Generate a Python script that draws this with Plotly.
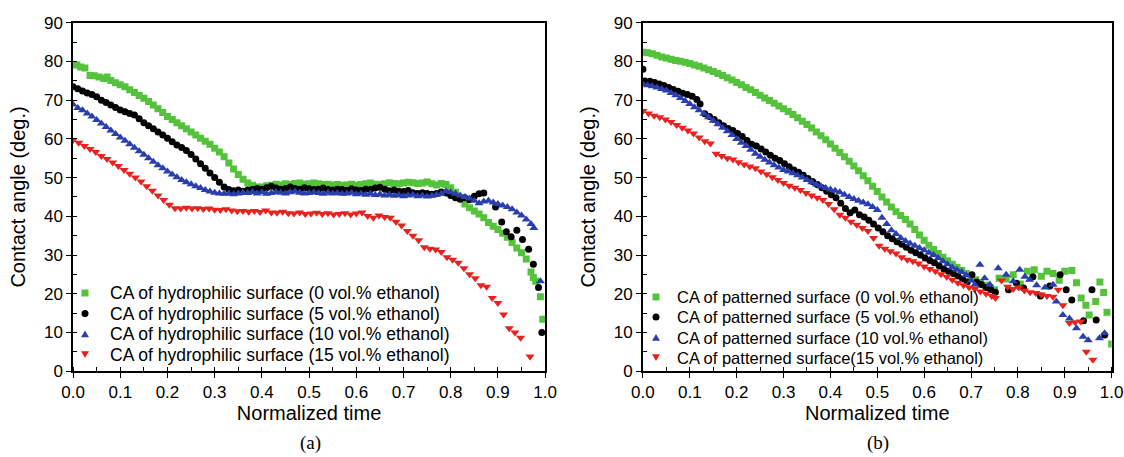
import plotly.graph_objects as go

# ---- (a) hydrophilic surface ----
a_t0 = [0.000, 0.008, 0.016, 0.025, 0.036, 0.045, 0.055, 0.065, 0.072, 0.080, 0.090, 0.100, 0.110, 0.120,
        0.130, 0.140, 0.150, 0.160, 0.170, 0.180, 0.190, 0.200, 0.210, 0.220, 0.230, 0.240, 0.250, 0.260,
        0.270, 0.280, 0.290, 0.300, 0.310, 0.320, 0.330, 0.340, 0.350, 0.360, 0.370, 0.380, 0.390, 0.400,
        0.410, 0.420, 0.430, 0.440, 0.450, 0.460, 0.470, 0.480, 0.490, 0.500, 0.510, 0.520, 0.530, 0.540,
        0.550, 0.560, 0.570, 0.580, 0.590, 0.600, 0.610, 0.620, 0.630, 0.640, 0.650, 0.660, 0.670, 0.680,
        0.690, 0.700, 0.710, 0.720, 0.730, 0.740, 0.750, 0.760, 0.770, 0.780, 0.790, 0.800, 0.810, 0.820,
        0.830, 0.840, 0.850, 0.860, 0.870, 0.880, 0.890, 0.900, 0.910, 0.920, 0.930, 0.940, 0.950, 0.960,
        0.970, 0.975, 0.980, 0.990, 0.995]
a_v0 = [79.2, 79.1, 78.6, 78.3, 76.4, 76.3, 76.0, 75.6, 76.0, 75.1, 74.5, 74.0, 73.5, 72.7,
        72.0, 71.2, 70.5, 69.7, 68.8, 67.8, 66.8, 65.8, 65.0, 64.2, 63.4, 62.6, 61.8, 61.0,
        60.2, 59.4, 58.6, 57.6, 56.6, 55.4, 53.8, 52.2, 50.8, 49.6, 48.6, 48.0, 47.6, 47.6,
        47.9, 48.0, 48.3, 48.1, 48.4, 48.2, 48.5, 48.6, 48.3, 48.4, 48.6, 48.4, 48.2, 48.3,
        48.1, 48.2, 48.0, 48.1, 48.3, 48.0, 48.2, 48.4, 48.6, 48.3, 48.2, 48.4, 48.7, 48.5,
        48.4, 48.6, 48.8, 48.7, 48.5, 48.6, 48.9, 48.4, 48.1, 48.5, 48.2, 47.4, 46.2, 44.8,
        43.2, 42.2, 41.4, 40.6, 39.6, 38.4, 37.4, 36.6, 35.6, 34.6, 33.2, 31.8, 30.6, 29.0,
        25.6, 24.2, 23.2, 19.2, 13.4]

a_t5 = [0.000, 0.010, 0.020, 0.030, 0.040, 0.050, 0.060, 0.070, 0.080, 0.090, 0.100, 0.110, 0.120, 0.130,
        0.140, 0.150, 0.160, 0.170, 0.180, 0.190, 0.200, 0.210, 0.220, 0.230, 0.240, 0.250, 0.260, 0.270,
        0.280, 0.290, 0.300, 0.310, 0.320, 0.330, 0.340, 0.350, 0.360, 0.370, 0.380, 0.390, 0.400, 0.410,
        0.420, 0.430, 0.440, 0.450, 0.460, 0.470, 0.480, 0.490, 0.500, 0.510, 0.520, 0.530, 0.540, 0.550,
        0.560, 0.570, 0.580, 0.590, 0.600, 0.610, 0.620, 0.630, 0.640, 0.650, 0.660, 0.670, 0.680, 0.690,
        0.700, 0.710, 0.720, 0.730, 0.740, 0.750, 0.760, 0.770, 0.780, 0.790, 0.800, 0.810, 0.820, 0.830,
        0.840, 0.850, 0.860, 0.870, 0.895, 0.908, 0.918, 0.928, 0.940, 0.952, 0.965, 0.975, 0.986, 0.993]
a_v5 = [73.5, 73.0, 72.4, 71.9, 71.5, 70.9, 70.0, 69.4, 68.8, 68.1, 67.5, 67.0, 66.6, 66.2,
        65.2, 64.2, 63.4, 62.6, 61.8, 61.0, 60.2, 59.3, 58.4, 57.8, 57.0, 56.0, 54.8, 53.6,
        52.4, 51.2, 50.0, 48.8, 47.6, 46.9, 46.6, 46.8, 46.5, 46.8, 46.9, 47.2, 47.0, 47.4,
        47.8, 47.3, 47.0, 47.2, 47.6, 47.2, 47.0, 47.4, 47.1, 46.9, 47.0, 47.3, 46.9, 46.8,
        47.0, 46.9, 46.7, 47.1, 46.8, 46.7, 47.0, 46.9, 47.3, 47.5, 47.0, 46.6, 46.8, 46.5,
        46.4, 46.7, 46.1, 45.9, 46.1, 45.9, 45.7, 45.9, 46.3, 46.0, 45.4, 44.8, 44.4, 44.8,
        44.3, 45.2, 45.8, 46.0, 42.4, 38.5, 36.0, 34.7, 36.4, 34.0, 31.5, 27.6, 21.6, 10.0]

a_t10 = [0.000, 0.010, 0.020, 0.030, 0.040, 0.050, 0.060, 0.070, 0.080, 0.090, 0.100, 0.110, 0.120, 0.130,
         0.140, 0.150, 0.160, 0.170, 0.180, 0.190, 0.200, 0.210, 0.220, 0.230, 0.240, 0.250, 0.260, 0.270,
         0.280, 0.290, 0.300, 0.310, 0.320, 0.330, 0.340, 0.350, 0.360, 0.370, 0.380, 0.390, 0.400, 0.410,
         0.420, 0.430, 0.440, 0.450, 0.460, 0.470, 0.480, 0.490, 0.500, 0.510, 0.520, 0.530, 0.540, 0.550,
         0.560, 0.570, 0.580, 0.590, 0.600, 0.610, 0.620, 0.630, 0.640, 0.650, 0.660, 0.670, 0.680, 0.690,
         0.700, 0.710, 0.720, 0.730, 0.740, 0.750, 0.760, 0.770, 0.780, 0.790, 0.800, 0.810, 0.820, 0.830,
         0.840, 0.850, 0.860, 0.870, 0.880, 0.890, 0.900, 0.910, 0.920, 0.930, 0.940, 0.950, 0.960, 0.970,
         0.976, 0.990]
a_v10 = [68.9, 68.0, 67.4, 66.6, 65.8, 64.9, 64.0, 63.1, 62.2, 61.3, 60.4, 59.5, 58.6, 57.7,
         56.8, 55.9, 55.0, 54.1, 53.2, 52.4, 51.6, 50.8, 50.1, 49.4, 48.8, 48.3, 47.8, 47.3,
         46.8, 46.4, 46.1, 45.9, 45.8, 45.9, 45.7, 45.9, 46.1, 46.0, 46.3, 45.9, 46.2, 45.8,
         46.0, 46.3, 46.1, 45.9, 46.2, 46.4, 46.1, 45.9, 46.0, 46.2, 46.0, 45.8, 46.1, 45.9,
         46.0, 45.8, 45.9, 46.1, 45.7, 45.9, 45.6, 45.8, 45.5, 45.7, 45.4, 45.6, 45.3, 45.5,
         45.2, 45.4, 45.6, 45.2, 45.4, 45.1, 45.3, 45.6, 45.8, 46.5, 46.2, 45.8, 45.4, 45.0,
         44.6, 44.0, 43.4, 43.8, 44.0, 43.6, 43.2, 42.8, 42.4, 41.8, 41.0, 40.2, 39.2, 38.0,
         37.0, 23.2]

a_t15 = [0.000, 0.012, 0.024, 0.036, 0.048, 0.060, 0.072, 0.084, 0.096, 0.108, 0.120, 0.132, 0.144, 0.156,
         0.168, 0.180, 0.192, 0.204, 0.216, 0.228, 0.240, 0.252, 0.264, 0.276, 0.288, 0.300, 0.312, 0.324,
         0.336, 0.348, 0.360, 0.372, 0.384, 0.396, 0.408, 0.420, 0.432, 0.444, 0.456, 0.468, 0.480, 0.492,
         0.504, 0.516, 0.528, 0.540, 0.552, 0.564, 0.576, 0.588, 0.600, 0.612, 0.624, 0.636, 0.648, 0.660,
         0.672, 0.684, 0.696, 0.708, 0.720, 0.732, 0.744, 0.756, 0.768, 0.780, 0.792, 0.804, 0.816, 0.828,
         0.840, 0.852, 0.864, 0.876, 0.888, 0.900, 0.912, 0.924, 0.936, 0.948, 0.968]
a_v15 = [59.7, 59.0, 58.2, 57.4, 56.6, 55.6, 54.8, 53.9, 53.0, 52.0, 51.0, 50.0, 49.0, 47.8,
         46.6, 45.4, 44.2, 43.0, 42.1, 42.0, 42.2, 42.0, 42.1, 41.9, 42.0, 41.7, 41.6, 41.8,
         41.5, 41.3, 41.4, 41.2, 41.4, 41.1, 41.5, 41.0, 40.9, 41.2, 40.8, 40.7, 41.0, 40.6,
         40.7, 40.9, 40.6, 40.8, 40.5, 40.6, 40.8, 40.5, 40.7, 41.0, 40.1, 39.6, 40.2, 39.8,
         39.6, 38.6, 37.6, 36.2, 35.0, 33.8, 32.0, 31.6, 31.4, 30.8, 29.4, 28.8, 28.0, 26.6,
         25.0, 24.0, 22.2, 21.8, 18.9, 17.6, 14.6, 11.1, 10.0, 8.6, 3.8]

# ---- (b) patterned surface ----
b_t0 = [0.000, 0.010, 0.020, 0.030, 0.040, 0.050, 0.060, 0.070, 0.080, 0.090, 0.100, 0.110, 0.120, 0.130,
        0.140, 0.150, 0.160, 0.170, 0.180, 0.190, 0.200, 0.210, 0.220, 0.230, 0.240, 0.250, 0.260, 0.270,
        0.280, 0.290, 0.300, 0.310, 0.320, 0.330, 0.340, 0.350, 0.360, 0.370, 0.380, 0.390, 0.400, 0.410,
        0.420, 0.430, 0.440, 0.450, 0.460, 0.470, 0.480, 0.490, 0.500, 0.510, 0.520, 0.530, 0.540, 0.550,
        0.560, 0.570, 0.580, 0.590, 0.600, 0.610, 0.620, 0.630, 0.640, 0.650, 0.660, 0.670, 0.680, 0.690,
        0.700, 0.710, 0.720, 0.730, 0.740, 0.750, 0.760, 0.775, 0.790, 0.805, 0.820, 0.835, 0.850, 0.862,
        0.875, 0.888, 0.900, 0.915, 0.925, 0.935, 0.945, 0.952, 0.966, 0.975, 0.983, 0.990, 1.000]
b_v0 = [82.4, 82.3, 82.0, 81.6, 81.2, 80.9, 80.6, 80.3, 80.1, 79.8, 79.5, 79.1, 78.8, 78.3,
        77.9, 77.4, 76.9, 76.4, 75.8, 75.2, 74.6, 74.0, 73.3, 72.7, 72.0, 71.3, 70.6, 69.9,
        69.2, 68.5, 67.8, 67.1, 66.3, 65.5, 64.6, 63.7, 62.8, 61.8, 60.8, 59.8, 58.7, 57.6,
        56.5, 55.4, 54.2, 53.0, 51.8, 50.5, 49.2, 47.8, 46.4, 45.0, 43.7, 42.4, 41.2, 40.2,
        39.2, 38.0, 36.6, 35.2, 33.8, 32.5, 31.4, 30.4, 29.4, 28.5, 27.6, 26.8, 26.0, 25.2,
        24.4, 23.6, 22.8, 22.2, 21.6, 21.0, 24.0, 23.8, 24.9, 22.5, 25.8, 26.2, 24.5, 25.8,
        25.2, 23.5, 25.8, 26.0, 22.8, 18.9, 17.0, 14.5, 18.0, 23.0, 20.3, 15.2, 7.0]

b_t5 = [0.000, 0.004, 0.015, 0.025, 0.035, 0.045, 0.055, 0.065, 0.075, 0.085, 0.095, 0.105, 0.115, 0.122,
        0.132, 0.142, 0.152, 0.162, 0.172, 0.182, 0.192, 0.202, 0.212, 0.222, 0.232, 0.242, 0.252, 0.262,
        0.272, 0.282, 0.292, 0.302, 0.312, 0.322, 0.332, 0.342, 0.352, 0.362, 0.372, 0.382, 0.392, 0.402,
        0.412, 0.422, 0.432, 0.442, 0.452, 0.462, 0.472, 0.482, 0.492, 0.502, 0.512, 0.522, 0.532, 0.542,
        0.552, 0.562, 0.572, 0.582, 0.592, 0.602, 0.612, 0.622, 0.632, 0.642, 0.652, 0.662, 0.672, 0.682,
        0.692, 0.702, 0.712, 0.722, 0.732, 0.742, 0.752, 0.780, 0.797, 0.812, 0.832, 0.848, 0.868, 0.890,
        0.903, 0.915, 0.940, 0.958, 0.967, 0.985]
b_v5 = [78.0, 75.0, 74.9, 74.6, 74.2, 73.8, 73.3, 72.8, 72.3, 71.8, 71.5, 71.0, 70.2, 69.0,
        66.5, 65.8, 65.0, 64.2, 63.4, 62.7, 62.2, 61.4, 60.6, 59.6, 58.6, 58.2, 57.4, 56.6,
        55.8, 55.0, 54.4, 53.6, 52.8, 52.0, 51.4, 50.6, 49.8, 49.0, 48.2, 47.4, 46.5, 45.6,
        44.8, 43.4, 42.0, 40.9, 41.6, 40.4, 39.8, 39.0, 38.0, 37.0, 36.0, 35.0, 34.2, 33.4,
        32.8, 32.0, 31.2, 30.6, 30.0, 29.2, 28.6, 28.0, 27.2, 26.4, 25.8, 25.2, 24.6, 23.8,
        23.0, 24.9, 23.0, 22.4, 21.6, 21.0, 20.4, 21.0, 22.7, 21.5, 24.4, 19.4, 22.0, 24.9,
        21.0, 18.4, 13.0, 21.0, 13.2, 9.3]

b_t10 = [0.000, 0.010, 0.020, 0.030, 0.040, 0.050, 0.060, 0.070, 0.080, 0.090, 0.100, 0.110, 0.120, 0.130,
         0.140, 0.150, 0.160, 0.170, 0.180, 0.190, 0.200, 0.210, 0.220, 0.230, 0.240, 0.250, 0.260, 0.270,
         0.280, 0.290, 0.300, 0.310, 0.320, 0.330, 0.340, 0.350, 0.360, 0.370, 0.380, 0.390, 0.400, 0.410,
         0.420, 0.430, 0.440, 0.450, 0.460, 0.470, 0.480, 0.490, 0.500, 0.510, 0.520, 0.530, 0.540, 0.550,
         0.560, 0.570, 0.580, 0.590, 0.600, 0.610, 0.620, 0.630, 0.640, 0.650, 0.660, 0.670, 0.680, 0.690,
         0.700, 0.708, 0.719, 0.729, 0.740, 0.758, 0.775, 0.790, 0.804, 0.815, 0.825, 0.840, 0.858, 0.875,
         0.882, 0.896, 0.910, 0.925, 0.939, 0.950, 0.974, 0.985]
b_v10 = [74.2, 73.9, 73.6, 73.3, 72.9, 72.5, 71.9, 71.3, 70.6, 69.8, 69.0, 68.2, 67.4, 66.5,
         65.6, 64.7, 63.8, 62.9, 62.0, 61.0, 60.0, 59.0, 58.2, 57.2, 56.2, 55.4, 54.6, 53.9,
         53.2, 52.6, 52.0, 51.6, 51.1, 50.6, 50.0, 49.4, 48.8, 48.2, 47.7, 47.3, 46.9, 46.6,
         46.2, 45.6, 45.0, 44.5, 44.0, 43.6, 43.1, 42.4, 41.6, 39.6, 38.0, 36.4, 35.4, 34.4,
         33.6, 33.0, 32.4, 31.8, 31.2, 30.6, 30.0, 29.2, 28.4, 27.6, 26.8, 26.2, 25.6, 24.8,
         23.4, 22.3, 27.5, 24.0, 22.4, 26.6, 24.9, 23.2, 26.2, 24.4, 23.6, 22.2, 21.6, 22.3,
         18.0, 14.5, 13.6, 11.1, 8.9, 8.0, 8.5, 9.8]

b_t15 = [0.000, 0.012, 0.024, 0.036, 0.048, 0.060, 0.072, 0.084, 0.096, 0.108, 0.120, 0.132, 0.144, 0.156,
         0.168, 0.180, 0.192, 0.204, 0.216, 0.228, 0.240, 0.252, 0.264, 0.276, 0.288, 0.300, 0.312, 0.324,
         0.336, 0.348, 0.360, 0.372, 0.384, 0.396, 0.408, 0.420, 0.432, 0.444, 0.456, 0.468, 0.480, 0.492,
         0.504, 0.516, 0.528, 0.540, 0.552, 0.564, 0.576, 0.588, 0.600, 0.612, 0.624, 0.636, 0.648, 0.660,
         0.672, 0.684, 0.696, 0.708, 0.720, 0.732, 0.744, 0.752, 0.765, 0.778, 0.790, 0.802, 0.814, 0.826,
         0.838, 0.850, 0.862, 0.875, 0.886, 0.896, 0.910, 0.922, 0.934, 0.946, 0.960]
b_v15 = [67.2, 66.6, 66.0, 65.6, 65.0, 64.4, 63.6, 62.9, 62.2, 61.4, 60.4, 59.4, 58.8, 56.2,
         55.6, 55.0, 54.7, 54.0, 53.4, 52.9, 52.4, 51.6, 50.9, 50.1, 49.4, 48.6, 47.9, 47.4,
         46.8, 46.0, 45.4, 44.8, 44.2, 43.2, 41.8, 40.4, 39.6, 38.6, 37.8, 37.0, 36.2, 34.4,
         32.4, 31.6, 31.0, 30.4, 29.4, 28.8, 28.4, 27.8, 27.0, 26.4, 25.8, 25.0, 24.4, 23.6,
         22.8, 22.2, 21.6, 21.2, 20.6, 20.0, 19.4, 18.9, 23.4, 21.8, 21.2, 21.6, 20.8, 20.4,
         20.2, 19.8, 19.4, 19.2, 21.0, 17.0, 12.4, 12.6, 12.8, 5.0, 2.9]

names_a = ["CA of hydrophilic surface (0 vol.% ethanol)",
           "CA of hydrophilic surface (5 vol.% ethanol)",
           "CA of hydrophilic surface (10 vol.% ethanol)",
           "CA of hydrophilic surface (15 vol.% ethanol)"]
names_b = ["CA of patterned surface (0 vol.% ethanol)",
           "CA of patterned surface (5 vol.% ethanol)",
           "CA of patterned surface (10 vol.% ethanol)",
           "CA of patterned surface(15 vol.% ethanol)"]

colors = ["#55c23c", "#000000", "#2b3ead", "#e8221f"]
symbols = ["square", "circle", "triangle-up", "triangle-down"]
sizes = [7, 7, 8, 8]

FONT = "Liberation Sans, Arial, sans-serif"
W, H = 1124, 457

fig = go.Figure()

series_a = [(a_t0, a_v0), (a_t5, a_v5), (a_t10, a_v10), (a_t15, a_v15)]
series_b = [(b_t0, b_v0), (b_t5, b_v5), (b_t10, b_v10), (b_t15, b_v15)]

for i, (t, v) in enumerate(series_a):
    fig.add_trace(go.Scatter(x=t, y=v, mode="markers", name=names_a[i], showlegend=False,
                             marker=dict(color=colors[i], symbol=symbols[i], size=sizes[i], line=dict(width=0)),
                             xaxis="x", yaxis="y"))
for i, (t, v) in enumerate(series_b):
    fig.add_trace(go.Scatter(x=t, y=v, mode="markers", name=names_b[i], showlegend=False,
                             marker=dict(color=colors[i], symbol=symbols[i], size=sizes[i], line=dict(width=0)),
                             xaxis="x2", yaxis="y2"))

ydom = [0.188, 0.950]
xdom_a = [0.065, 0.485]
xdom_b = [0.572, 0.989]

def xax(dom, anchor):
    return dict(domain=dom, anchor=anchor, range=[0, 1], dtick=0.1, tickformat=".1f",
                ticks="outside", ticklen=5, tickwidth=1.3, tickcolor="black",
                minor=dict(dtick=0.05, ticks="inside", ticklen=4, tickcolor="black"),
                showline=True, linecolor="black", linewidth=1.5, mirror=True,
                showgrid=False, zeroline=False, automargin=False,
                tickfont=dict(family=FONT, size=17, color="black"),
                title=dict(text="Normalized time", font=dict(family=FONT, size=20, color="black"), standoff=4))

def yax(dom, anchor):
    return dict(domain=dom, anchor=anchor, range=[0, 90], dtick=10,
                ticks="outside", ticklen=5, tickwidth=1.3, tickcolor="black",
                minor=dict(dtick=5, ticks="inside", ticklen=4, tickcolor="black"),
                showline=True, linecolor="black", linewidth=1.5, mirror=True,
                showgrid=False, zeroline=False, automargin=False,
                tickfont=dict(family=FONT, size=17, color="black"),
                title=dict(text="Contact angle (deg.)", font=dict(family=FONT, size=20, color="black"), standoff=13))

def top_ax(dom, over, anchor):
    return dict(domain=dom, overlaying=over, anchor=anchor, side="top", range=[0, 1], dtick=0.1,
                ticks="inside", ticklen=5, tickcolor="black", showticklabels=False,
                minor=dict(dtick=0.05, ticks="inside", ticklen=3, tickcolor="black"),
                showgrid=False, zeroline=False, showline=False, automargin=False)

def right_ax(dom, over, anchor):
    return dict(domain=dom, overlaying=over, anchor=anchor, side="right", range=[0, 90], dtick=10,
                ticks="inside", ticklen=5, tickcolor="black", showticklabels=False,
                minor=dict(dtick=5, ticks="inside", ticklen=3, tickcolor="black"),
                showgrid=False, zeroline=False, showline=False, automargin=False)

# legend drawn as keys + text so the rows can sit as tightly as in the original
shapes = []
annotations = []

def legend_block(names, key_x, text_x, rows_y, font_size):
    for i, name in enumerate(names):
        cx, cy = key_x, rows_y[i]
        px = lambda x: x / W
        py = lambda y: 1 - y / H
        s = sizes[i] / 2.0
        common = dict(xref="paper", yref="paper", fillcolor=colors[i], line=dict(width=0), layer="above")
        if symbols[i] == "square":
            shapes.append(dict(type="rect", x0=px(cx - 3.5), x1=px(cx + 3.5), y0=py(cy + 3.5), y1=py(cy - 3.5), **common))
        elif symbols[i] == "circle":
            shapes.append(dict(type="circle", x0=px(cx - 3.5), x1=px(cx + 3.5), y0=py(cy + 3.5), y1=py(cy - 3.5), **common))
        elif symbols[i] == "triangle-up":
            shapes.append(dict(type="path", path=f"M {px(cx - s)},{py(cy + s * 0.8)} L {px(cx + s)},{py(cy + s * 0.8)} L {px(cx)},{py(cy - s * 0.9)} Z", **common))
        else:
            shapes.append(dict(type="path", path=f"M {px(cx - s)},{py(cy - s * 0.8)} L {px(cx + s)},{py(cy - s * 0.8)} L {px(cx)},{py(cy + s * 0.9)} Z", **common))
        annotations.append(dict(text=name, x=px(text_x), y=py(cy), xref="paper", yref="paper",
                                xanchor="left", yanchor="middle", showarrow=False,
                                font=dict(family=FONT, size=font_size, color="black")))

legend_block(names_a, 85, 108, [293, 313.5, 334, 354.5], 17.5)
legend_block(names_b, 656, 675, [297, 317, 337.5, 357.5], 16.5)

annotations += [
    dict(text="(a)", x=310 / W, y=1 - 443 / H, xref="paper", yref="paper", showarrow=False,
         xanchor="center", yanchor="middle",
         font=dict(family="Liberation Serif, Times New Roman, serif", size=19, color="black")),
    dict(text="(b)", x=878 / W, y=1 - 443 / H, xref="paper", yref="paper", showarrow=False,
         xanchor="center", yanchor="middle",
         font=dict(family="Liberation Serif, Times New Roman, serif", size=19, color="black")),
]

fig.update_layout(
    width=W, height=H,
    margin=dict(l=0, r=0, t=0, b=0),
    paper_bgcolor="white", plot_bgcolor="white",
    showlegend=False,
    xaxis=xax(xdom_a, "y"),
    yaxis=yax(ydom, "x"),
    xaxis2=xax(xdom_b, "y2"),
    yaxis2=yax(ydom, "x2"),
    xaxis3=top_ax(xdom_a, "x", "y"),
    yaxis3=right_ax(ydom, "y", "x"),
    xaxis4=top_ax(xdom_b, "x2", "y2"),
    yaxis4=right_ax(ydom, "y2", "x2"),
    shapes=shapes,
    annotations=annotations,
)

fig.write_html("out.html", config={"displayModeBar": False},
               post_script="document.body.style.margin='0';document.body.style.padding='0';")
